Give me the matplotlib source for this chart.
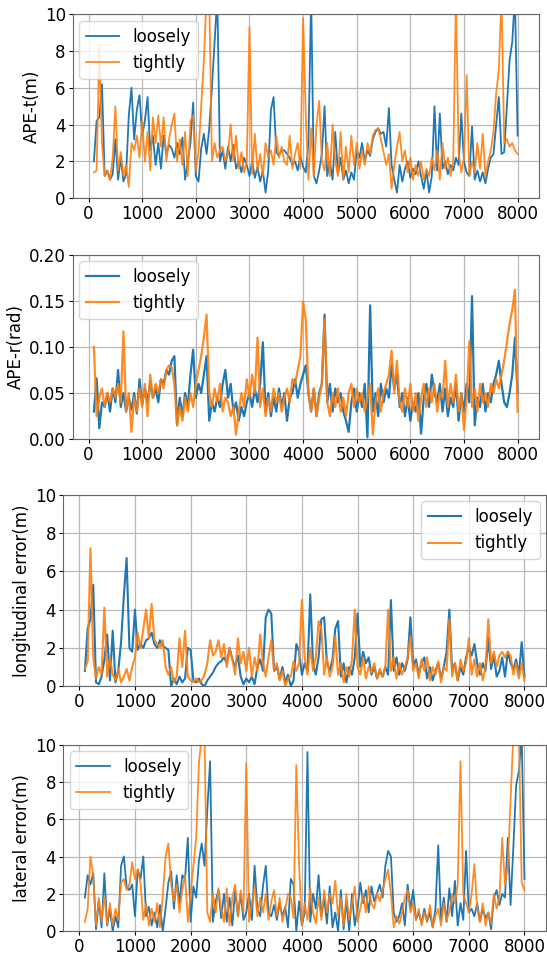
import numpy as np
import matplotlib
matplotlib.use("Agg")
import matplotlib.pyplot as plt

# frame index of the samples (one every 50 frames)
frames = np.arange(100, 8001, 50)

ape_t_loose = [
    2.0, 4.2, 4.4, 6.2, 1.2, 1.5, 1.0, 1.3, 3.2, 1.0,
    2.2, 0.9, 1.3, 4.5, 6.0, 3.2, 4.8, 5.6, 3.4, 4.2,
    5.5, 2.6, 3.4, 1.8, 3.0, 1.6, 3.4, 2.4, 2.9, 2.7,
    2.2, 3.0, 2.4, 3.3, 1.0, 2.0, 3.0, 5.2, 1.2, 0.9,
    2.7, 3.5, 2.4, 3.8, 6.0, 8.5, 11.0, 2.0, 2.6, 1.6,
    2.8, 2.0, 2.9, 1.6, 2.0, 1.4, 2.2, 1.8, 1.2, 2.0,
    1.1, 1.7, 0.9, 1.5, 0.3, 1.5, 4.8, 5.5, 2.5, 2.3,
    2.6, 2.6, 2.4, 2.2, 1.8, 2.0, 1.5, 2.3, 1.7, 1.4,
    3.0, 11.0, 1.2, 0.8, 1.5, 2.4, 5.0, 1.2, 2.0, 1.0,
    3.6, 1.3, 2.2, 1.0, 1.5, 0.8, 1.4, 1.0, 2.6, 2.2,
    3.0, 2.0, 2.6, 2.3, 3.2, 3.6, 3.8, 3.5, 3.6, 2.8,
    4.9, 1.8, 1.0, 0.3, 1.8, 0.9, 1.6, 2.0, 1.1, 1.6,
    1.3, 2.0, 1.2, 0.5, 1.5, 0.3, 1.2, 5.0, 1.5, 4.6,
    1.6, 2.0, 1.3, 1.8, 1.5, 2.2, 1.8, 4.6, 2.0, 1.4,
    1.2, 3.9, 1.0, 1.5, 0.9, 1.4, 0.8, 1.6, 2.2, 2.4,
    4.0, 5.5, 2.4, 2.5, 5.0, 7.5, 8.5, 11.0, 3.4,
]
ape_t_tight = [
    1.4, 1.5, 8.2, 3.0, 1.2, 1.5, 1.0, 2.2, 5.0, 1.5,
    2.5, 1.2, 1.8, 0.6, 3.0, 2.6, 3.4, 2.2, 4.2, 2.0,
    3.6, 1.5, 4.4, 3.0, 4.5, 2.8, 4.4, 2.0, 3.2, 4.0,
    4.6, 2.0, 3.2, 1.8, 3.6, 1.2, 4.2, 4.5, 1.5, 2.5,
    5.0, 7.5, 11.0, 11.0, 2.0, 3.0, 2.2, 2.6, 2.8, 2.0,
    2.4, 4.0, 2.0, 3.4, 1.6, 2.5, 1.4, 2.0, 9.3, 1.3,
    3.5, 1.5, 2.4, 1.2, 3.0, 2.2, 2.6, 1.8, 3.4, 2.2,
    2.8, 2.0, 1.8, 3.4, 1.6, 2.4, 3.0, 1.6, 9.8, 4.5,
    1.0, 3.8, 1.2, 4.0, 5.3, 2.0, 1.5, 3.0, 1.2, 4.0,
    2.0, 1.2, 3.6, 1.0, 2.8, 1.4, 3.4, 1.8, 3.0, 1.6,
    2.6, 1.8, 3.0, 2.4, 3.4, 3.7, 3.8, 3.2, 2.5, 1.8,
    2.4, 0.5, 1.8, 2.8, 3.6, 2.0, 2.6, 1.4, 2.2, 1.0,
    1.8, 1.2, 2.0, 1.0, 1.6, 1.2, 2.2, 1.5, 2.6, 1.0,
    3.0, 1.6, 2.2, 1.2, 2.0, 11.0, 2.5, 1.4, 2.2, 6.7,
    1.2, 2.0, 1.4, 3.0, 1.6, 3.5, 1.2, 2.0, 2.6, 3.6,
    5.7, 7.0, 11.0, 3.0, 3.2, 2.8, 3.0, 2.6, 2.4,
]

ape_r_loose = [
    0.030, 0.066, 0.012, 0.040, 0.035, 0.050, 0.030, 0.055, 0.040, 0.075,
    0.035, 0.050, 0.030, 0.045, 0.032, 0.050, 0.028, 0.065, 0.038, 0.055,
    0.040, 0.062, 0.045, 0.055, 0.040, 0.065, 0.060, 0.075, 0.070, 0.085,
    0.090, 0.015, 0.045, 0.025, 0.050, 0.035, 0.070, 0.097, 0.045, 0.060,
    0.050, 0.070, 0.090, 0.020, 0.040, 0.030, 0.045, 0.035, 0.060, 0.075,
    0.045, 0.060, 0.030, 0.040, 0.020, 0.035, 0.025, 0.040, 0.050, 0.035,
    0.055, 0.040, 0.060, 0.105, 0.030, 0.050, 0.025, 0.045, 0.030, 0.055,
    0.035, 0.050, 0.020, 0.045, 0.050, 0.065, 0.045, 0.060, 0.070, 0.080,
    0.050, 0.030, 0.055, 0.025, 0.050, 0.060, 0.135, 0.040, 0.060, 0.030,
    0.055, 0.040, 0.050, 0.030, 0.020, 0.008, 0.040, 0.055, 0.030, 0.050,
    0.035, 0.060, 0.002, 0.145, 0.030, 0.050, 0.025, 0.060, 0.040, 0.055,
    0.045, 0.080, 0.055, 0.070, 0.035, 0.050, 0.025, 0.045, 0.020, 0.040,
    0.030, 0.050, 0.006, 0.045, 0.060, 0.035, 0.070, 0.050, 0.040, 0.060,
    0.030, 0.055, 0.025, 0.045, 0.035, 0.060, 0.020, 0.050, 0.030, 0.060,
    0.040, 0.155, 0.015, 0.045, 0.035, 0.060, 0.030, 0.050, 0.040, 0.060,
    0.070, 0.085, 0.060, 0.040, 0.035, 0.050, 0.070, 0.110, 0.050,
]
ape_r_tight = [
    0.100, 0.025, 0.045, 0.055, 0.035, 0.050, 0.040, 0.055, 0.045, 0.060,
    0.040, 0.117, 0.030, 0.050, 0.008, 0.045, 0.030, 0.055, 0.035, 0.060,
    0.025, 0.070, 0.045, 0.060, 0.050, 0.065, 0.055, 0.075, 0.080, 0.078,
    0.060, 0.015, 0.035, 0.020, 0.045, 0.030, 0.050, 0.035, 0.060, 0.075,
    0.090, 0.110, 0.135, 0.050, 0.035, 0.055, 0.040, 0.060, 0.030, 0.045,
    0.040, 0.025, 0.035, 0.005, 0.030, 0.050, 0.035, 0.065, 0.045, 0.070,
    0.050, 0.110, 0.035, 0.055, 0.025, 0.045, 0.030, 0.055, 0.040, 0.050,
    0.030, 0.045, 0.055, 0.040, 0.065, 0.060, 0.075, 0.090, 0.149, 0.130,
    0.050, 0.030, 0.055, 0.025, 0.045, 0.060, 0.130, 0.040, 0.025, 0.050,
    0.035, 0.055, 0.030, 0.045, 0.025, 0.050, 0.060, 0.035, 0.055, 0.040,
    0.050, 0.030, 0.045, 0.060, 0.005, 0.040, 0.055, 0.030, 0.050, 0.060,
    0.070, 0.096, 0.050, 0.085, 0.040, 0.030, 0.055, 0.035, 0.060, 0.030,
    0.050, 0.020, 0.045, 0.060, 0.035, 0.055, 0.040, 0.060, 0.030, 0.050,
    0.045, 0.085, 0.035, 0.060, 0.040, 0.070, 0.030, 0.050, 0.010, 0.045,
    0.106, 0.035, 0.055, 0.030, 0.060, 0.040, 0.050, 0.035, 0.060, 0.050,
    0.065, 0.055, 0.070, 0.085, 0.105, 0.125, 0.140, 0.162, 0.030,
]

lon_loose = [
    0.8, 3.0, 3.5, 5.3, 0.2, 0.1, 0.5, 1.4, 2.7, 0.3,
    2.9, 0.2, 0.8, 2.3, 4.7, 6.7, 2.0, 1.8, 4.0, 1.9,
    2.2, 2.0, 2.4, 2.5, 2.8, 2.2, 2.0, 2.4, 2.1, 2.0,
    1.9, 0.0, 0.4, 0.1, 0.5, 0.2, 0.4, 2.0, 1.9, 0.3,
    0.2, 0.4, 0.1, 0.0, 0.3, 0.5, 0.7, 1.0, 1.2, 1.3,
    1.5, 1.2, 2.0, 1.4, 1.0, 1.6, 0.5, 0.1, 0.4, 0.2,
    0.5, 0.1, 1.0, 1.4, 0.8, 3.6, 4.0, 3.8, 0.8, 1.0,
    0.4, 1.0, 0.2, 0.6, 0.0, 0.3, 2.2, 1.8, 0.6, 1.2,
    0.8, 4.8, 1.2, 0.6, 1.5, 3.5, 3.6, 1.2, 0.8, 1.4,
    3.0, 3.4, 0.5, 1.2, 0.2, 1.0, 0.6, 1.5, 3.8, 1.0,
    1.8, 1.2, 1.5, 0.6, 1.0, 0.4, 0.8, 0.5, 1.0, 0.6,
    4.5, 0.8, 1.5, 0.6, 1.2, 0.8, 1.4, 3.6, 1.0, 1.4,
    0.6, 1.2, 1.5, 0.4, 1.0, 0.3, 0.8, 1.2, 0.4, 1.0,
    1.8, 4.0, 0.8, 1.2, 0.3, 1.0, 0.6, 1.5, 2.0, 1.6,
    2.2, 1.2, 0.6, 1.2, 0.8, 2.5, 0.9, 1.6, 0.5, 0.8,
    1.5, 0.5, 1.8, 1.2, 0.9, 1.4, 0.6, 2.3, 0.5,
]
lon_tight = [
    0.9, 1.3, 7.2, 1.5, 0.4, 1.0, 0.6, 4.1, 0.5, 1.5,
    0.6, 0.3, 0.9, 0.2, 0.5, 0.9, 0.3, 1.0, 1.5, 2.8,
    2.0, 3.0, 4.0, 2.5, 4.3, 2.4, 2.2, 2.0, 2.4, 1.0,
    0.6, 1.0, 0.2, 0.5, 2.5, 1.0, 2.9, 0.5, 0.3, 0.2,
    0.4, 0.2, 0.3, 0.6, 1.2, 2.4, 1.6, 1.8, 2.4, 1.5,
    2.2, 1.0, 2.0, 1.4, 0.6, 2.5, 1.2, 1.8, 0.8, 2.0,
    0.5, 1.5, 0.8, 2.7, 1.2, 0.5, 1.5, 2.4, 0.8, 1.2,
    0.3, 0.8, 0.0, 0.4, 0.5, 1.3, 0.8, 1.2, 4.5, 1.5,
    0.6, 2.0, 0.8, 1.5, 3.4, 3.0, 0.6, 1.5, 0.5, 1.0,
    2.6, 0.6, 1.2, 0.2, 1.0, 0.5, 1.4, 4.0, 1.0, 0.6,
    1.5, 0.4, 1.0, 0.7, 1.2, 0.4, 0.9, 0.5, 1.0, 4.0,
    0.8, 1.5, 0.4, 1.2, 0.6, 1.0, 1.5, 2.6, 0.8, 1.2,
    0.4, 1.4, 0.8, 1.5, 0.3, 1.0, 0.6, 1.3, 0.2, 1.0,
    0.8, 3.5, 0.5, 1.2, 0.3, 1.4, 0.8, 1.2, 2.5, 0.6,
    1.4, 0.5, 1.2, 0.3, 1.0, 3.5, 1.2, 1.8, 1.0, 1.6,
    1.8, 1.5, 1.8, 1.6, 0.6, 1.2, 0.4, 1.2, 0.3,
]

lat_loose = [
    1.8, 3.0, 2.5, 3.1, 0.1, 1.6, 0.2, 3.1, 0.3, 1.2,
    0.0, 0.8, 0.2, 3.5, 4.0, 2.4, 2.2, 2.5, 0.8, 3.3,
    2.8, 4.0, 0.8, 1.3, 0.3, 1.0, 0.2, 1.4, 0.0, 1.2,
    2.6, 3.2, 1.2, 3.0, 1.5, 3.0, 2.8, 5.0, 0.5, 2.4,
    1.8, 3.8, 4.7, 3.5, 6.5, 9.1, 0.5, 1.6, 2.2, 0.7,
    2.0, 0.5, 1.8, 0.3, 2.2, 0.8, 2.0, 0.6, 1.0, 2.0,
    0.6, 3.5, 1.2, 0.8, 2.4, 3.5, 1.0, 0.8, 1.4, 0.6,
    1.5, 0.8, 1.3, 0.2, 2.8, 2.5, 0.0, 1.6, 0.3, 1.0,
    9.6, 0.5, 2.0, 1.2, 3.0, 0.8, 1.8, 0.4, 2.4, 0.2,
    1.0, 0.0, 2.2, 0.1, 1.6, 0.0, 2.0, 0.3, 1.2, 2.6,
    1.5, 2.2, 1.0, 2.4, 1.6, 2.0, 2.5, 1.8, 3.5, 4.3,
    4.0, 1.0, 0.5, 0.8, 1.5, 0.3, 2.5, 1.2, 2.2, 0.6,
    1.0, 0.4, 1.2, 0.5, 1.0, 0.2, 1.2, 4.6, 0.6, 1.8,
    0.5, 2.3, 0.8, 2.7, 0.3, 1.5, 0.6, 4.3, 1.0, 1.2,
    0.8, 1.5, 0.5, 1.2, 0.7, 1.0, 0.1, 1.8, 2.2, 1.4,
    2.0, 1.8, 5.0, 1.4, 4.5, 7.8, 8.6, 10.5, 2.8,
]
lat_tight = [
    0.5, 1.2, 4.0, 3.0, 0.3, 1.8, 0.5, 1.9, 0.4, 1.5,
    0.3, 1.2, 0.6, 2.6, 2.8, 2.2, 2.5, 3.7, 2.8, 3.3,
    2.6, 0.6, 1.5, 0.3, 1.2, 0.5, 1.5, 0.2, 1.9, 4.0,
    4.7, 2.5, 1.6, 2.5, 1.0, 2.2, 3.0, 0.5, 2.0, 3.5,
    5.0, 9.0, 10.5, 10.5, 1.0, 0.5, 2.0, 1.0, 2.3, 1.2,
    0.5, 2.3, 0.3, 1.8, 2.5, 0.8, 2.2, 1.0, 9.0, 0.5,
    1.5, 2.4, 0.8, 1.8, 1.0, 2.0, 0.6, 1.6, 2.2, 0.8,
    1.8, 0.5, 1.2, 2.0, 1.8, 0.7, 8.9, 3.5, 0.3, 1.5,
    0.6, 2.3, 1.0, 0.4, 1.8, 0.6, 2.2, 1.0, 2.0, 1.5,
    2.7, 0.8, 1.8, 0.3, 2.0, 0.6, 1.5, 2.4, 0.5, 1.2,
    2.0, 1.0, 2.4, 1.5, 1.2, 2.0, 1.6, 2.2, 2.8, 3.3,
    2.0, 0.2, 0.8, 0.4, 1.0, 1.8, 2.2, 1.0, 1.5, 0.6,
    1.2, 0.3, 1.0, 0.5, 1.4, 0.2, 0.8, 1.2, 0.3, 1.5,
    0.6, 1.0, 2.0, 1.5, 2.5, 9.1, 2.0, 1.5, 1.0, 2.0,
    3.6, 1.2, 0.5, 1.5, 0.3, 1.0, 0.4, 2.0, 1.2, 1.8,
    5.0, 2.5, 3.5, 7.0, 10.5, 10.5, 10.5, 2.6, 2.2,
]

panels = [
    ("APE-t(m)", ape_t_loose, ape_t_tight, (0, 10), np.arange(0, 11, 2), "upper left", 1.3),
    ("APE-r(rad)", ape_r_loose, ape_r_tight, (0, 0.2), np.arange(0, 0.201, 0.05), "upper left", 1.6),
    ("longitudinal error(m)", lon_loose, lon_tight, (0, 10), np.arange(0, 11, 2), "upper right", 1.5),
    ("lateral error(m)", lat_loose, lat_tight, (0, 10), np.arange(0, 11, 2), "upper left", 1.3),
]

# axes boxes in figure fractions
boxes = [
    [0.133, 0.793, 0.852, 0.192],
    [0.133, 0.541, 0.852, 0.193],
    [0.115, 0.283, 0.884, 0.200],
    [0.115, 0.027, 0.884, 0.195],
]

fig = plt.figure(figsize=(5.47, 9.57), dpi=100)

for (label, loose, tight, ylim, yticks, loc, lw), box in zip(panels, boxes):
    ax = fig.add_axes(box)
    ax.plot(frames, loose, color="#1f77b4", lw=lw, label="loosely")
    ax.plot(frames, tight, color="#ff7f0e", lw=lw, alpha=0.9, label="tightly")
    ax.set_ylim(*ylim)
    ax.set_yticks(yticks)
    ax.set_xticks(np.arange(0, 8001, 1000))
    ax.grid(True, color="#b8b8b8", lw=0.9)
    ax.set_ylabel(label, fontsize=12, labelpad=3)
    ax.tick_params(labelsize=12, length=3, pad=2)
    for sp in ax.spines.values():
        sp.set_color("#666666")
    ax.legend(loc=loc, fontsize=12, borderaxespad=0.4)

fig.savefig("out.png", dpi=100)
